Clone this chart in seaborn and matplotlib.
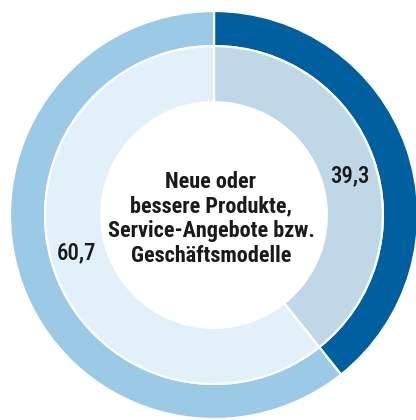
import matplotlib
matplotlib.use("Agg")
import matplotlib.pyplot as plt
from matplotlib import font_manager
import seaborn as sns

# data
segments = ["Ja", "Nein"]
outer_values = [39.3, 60.7]
inner_values = [39.3, 60.7]
value_labels = ["39,3", "60,7"]
center_title = "Neue oder\nbessere Produkte,\nService-Angebote bzw.\nGeschäftsmodelle"

outer_colors = ["#005f9e", "#9bcae6"]
inner_colors = ["#bfd7e7", "#e2f0f9"]

sns.set_theme(style="white")

# pick a condensed face if one is installed
names = {f.name for f in font_manager.fontManager.ttflist}
cond = [n for n in ["Roboto Condensed", "Liberation Sans Narrow", "DejaVu Sans Condensed", "Open Sans Condensed"] if n in names]
family = cond[0] if cond else "DejaVu Sans"
plt.rcParams["font.family"] = [family, "DejaVu Sans"]
stretch = "condensed" if family == "DejaVu Sans" else "normal"

fig = plt.figure(figsize=(4.16, 4.20), dpi=100)
ax = fig.add_axes([0, 0, 1, 1])

wp = dict(edgecolor="white", linewidth=1.6)
ax.pie(outer_values, colors=outer_colors, radius=1.0, startangle=90, counterclock=False,
       wedgeprops=dict(width=0.172, **wp))
ax.pie(inner_values, colors=inner_colors, radius=0.828, startangle=90, counterclock=False,
       wedgeprops=dict(width=0.275, **wp))

ax.text(-0.015, -0.02, center_title, ha="center", va="center", fontsize=16,
        fontweight="bold", color="#1a1a1a", linespacing=1.15, fontstretch=stretch)
ax.text(0.667, 0.19, value_labels[0], ha="center", va="center", fontsize=16.5,
        fontweight="medium", color="#1a1a1a", fontstretch=stretch)
ax.text(-0.676, -0.186, value_labels[1], ha="center", va="center", fontsize=16.5,
        fontweight="medium", color="#1a1a1a", fontstretch=stretch)

ax.set_aspect("auto")
ax.set_xlim(-214 / 204, (416 - 214) / 204)
ax.set_ylim(-(420 - 215) / 204, 215 / 204)
ax.axis("off")

fig.savefig("out.png", dpi=100, facecolor="white")
